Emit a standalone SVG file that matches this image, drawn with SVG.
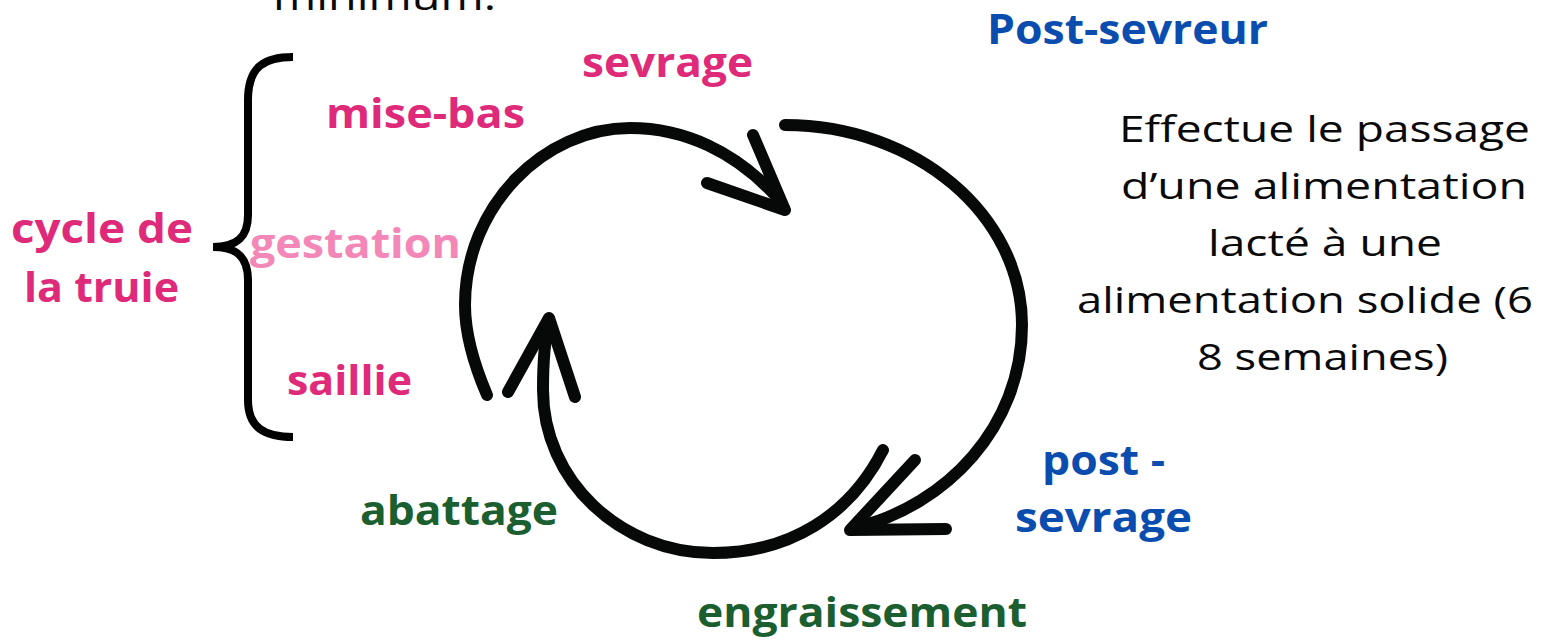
<svg xmlns="http://www.w3.org/2000/svg" width="1546" height="642" viewBox="0 0 1546 642">
<style>
.b{font-family:"Open Sans","DejaVu Sans",sans-serif;font-weight:700;font-size:41px}
.r{font-family:"Open Sans","DejaVu Sans",sans-serif;font-weight:400;font-size:36px;fill:#0a0a0a}
.pink{fill:#DE2A79}
.lpink{fill:#F387B7}
.blue{fill:#0A4DAE}
.green{fill:#1B5E2F}
.arc{fill:none;stroke:#070908;stroke-width:12;stroke-linecap:round;stroke-linejoin:round}
.brace{fill:none;stroke:#000;stroke-width:8}
</style>
<rect width="1546" height="642" fill="#fff"/>
<g id="note-top"><text class="r" x="273" y="10" textLength="223" lengthAdjust="spacingAndGlyphs">minimum.</text></g>
<g id="brace"><path class="brace" d="M293 57 C265 57 248 66 248 100 L248 215 C248 238 236 247 213 247 C236 247 248 256 248 280 L248 400 C248 428 265 437 293 437"/></g>
<g id="cycle-truie"><text class="b pink" x="11" y="243" textLength="182" lengthAdjust="spacingAndGlyphs">cycle de</text><text class="b pink" x="24" y="302" textLength="155" lengthAdjust="spacingAndGlyphs">la truie</text></g>
<g id="mise-bas"><text class="b pink" x="326" y="128" textLength="199" lengthAdjust="spacingAndGlyphs">mise-bas</text></g>
<g id="gestation"><text class="b lpink" x="250" y="258" textLength="211" lengthAdjust="spacingAndGlyphs">gestation</text></g>
<g id="saillie"><text class="b pink" x="287" y="395" textLength="125" lengthAdjust="spacingAndGlyphs">saillie</text></g>
<g id="sevrage"><text class="b pink" x="582" y="77" textLength="171" lengthAdjust="spacingAndGlyphs">sevrage</text></g>
<g id="post-sevreur"><text class="b blue" x="987" y="44" textLength="281" lengthAdjust="spacingAndGlyphs">Post-sevreur</text></g>
<g id="description">
<text class="r" x="1119" y="142" textLength="411" lengthAdjust="spacingAndGlyphs">Effectue le passage</text>
<text class="r" x="1121" y="199" textLength="406" lengthAdjust="spacingAndGlyphs">d’une alimentation</text>
<text class="r" x="1208" y="256" textLength="234" lengthAdjust="spacingAndGlyphs">lacté à une</text>
<text class="r" x="1077" y="313" textLength="456" lengthAdjust="spacingAndGlyphs">alimentation solide (6</text>
<text class="r" x="1197" y="370" textLength="251" lengthAdjust="spacingAndGlyphs">8 semaines)</text>
</g>
<g id="post-sevrage"><text class="b blue" x="1042" y="475" textLength="123" lengthAdjust="spacingAndGlyphs">post -</text><text class="b blue" x="1015" y="532" textLength="177" lengthAdjust="spacingAndGlyphs">sevrage</text></g>
<g id="abattage"><text class="b green" x="360" y="525" textLength="198" lengthAdjust="spacingAndGlyphs">abattage</text></g>
<g id="engraissement"><text class="b green" x="697" y="627" textLength="330" lengthAdjust="spacingAndGlyphs">engraissement</text></g>
<g id="connectors">
<path class="arc" d="M487 395 C472 360 465 332 465 305 C465 205 545 128 630 128 C685 128 735 152 775 195"/>
<path class="arc" d="M753 135 L785 210 L707 183"/>
<path class="arc" d="M785 125 C916 125 1022 215 1022 325 C1022 428 945 505 858 527"/>
<path class="arc" d="M915 460 L850 530 L946 529"/>
<path class="arc" d="M883 450 C850 515 790 553 713 553 C620 553 543 480 543 390 C543 360 545 338 549 322"/>
<path class="arc" d="M508 392 L549 318 L575 397"/>
</g>
</svg>
